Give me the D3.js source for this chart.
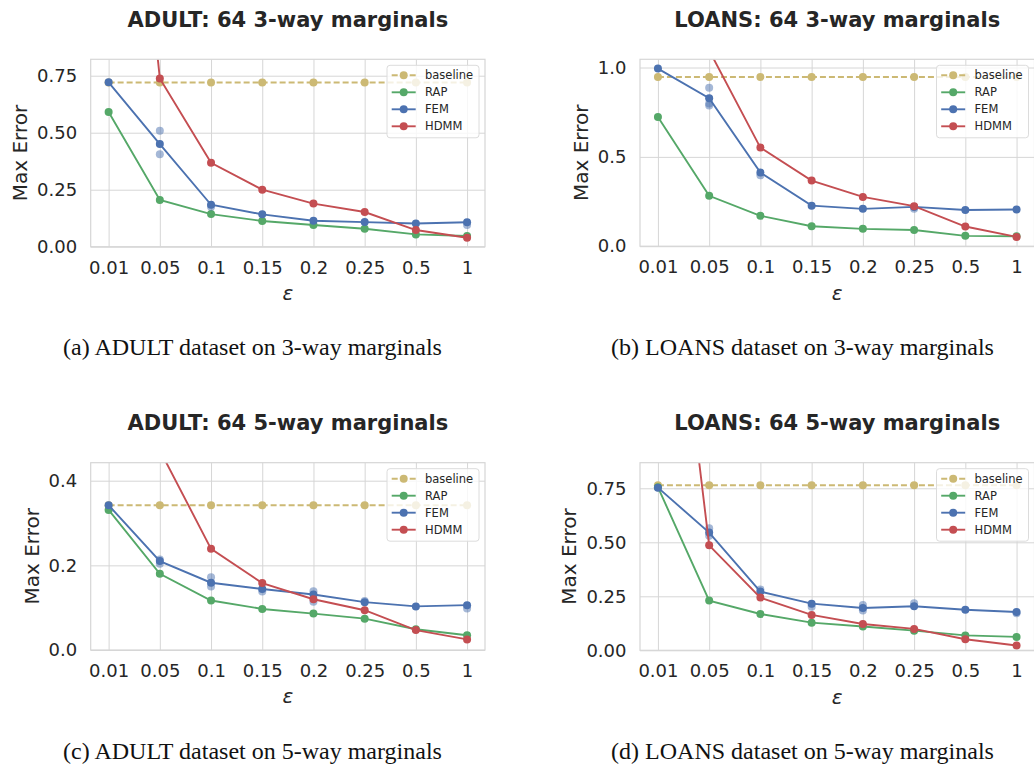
<!DOCTYPE html>
<html>
<head>
<meta charset="utf-8">
<script src="https://cdn.jsdelivr.net/npm/d3@7"></script>
<style>
  body { margin: 0; background: #fff; }
  svg text { font-family: "DejaVu Sans", sans-serif; fill: #262626; }
  svg text.caption { font-family: "Liberation Serif", "Times New Roman", serif; fill: #111; }
</style>
</head>
<body>
<div id="chart"></div>
<script>
// x axis categories (epsilon)
var epsLabels = ['0.01', '0.05', '0.1', '0.15', '0.2', '0.25', '0.5', '1'];
var methods = ['baseline', 'RAP', 'FEM', 'HDMM'];
var methodColors = ['#ccb974', '#55a868', '#4c72b0', '#c44e52'];

// (a) ADULT, 3-way marginals
var adult3Baseline = [0.72, 0.72, 0.72, 0.72, 0.72, 0.72, 0.72, 0.72];
var adult3RAP = [0.591, 0.205, 0.143, 0.113, 0.095, 0.079, 0.054, 0.047];
var adult3FEM = [0.721, 0.450, 0.184, 0.142, 0.114, 0.108, 0.102, 0.107];
var adult3HDMM = [2.9, 0.738, 0.368, 0.250, 0.189, 0.152, 0.073, 0.039];
var adult3FEMRuns = [[], [0.509, 0.405], [0.175], [], [], [], [], [0.095]];

// (b) LOANS, 3-way marginals
var loans3Baseline = [0.947, 0.947, 0.947, 0.947, 0.947, 0.947, 0.947, 0.947];
var loans3RAP = [0.723, 0.282, 0.170, 0.112, 0.097, 0.091, 0.058, 0.056];
var loans3FEM = [0.994, 0.828, 0.412, 0.227, 0.209, 0.220, 0.203, 0.205];
var loans3HDMM = [3.0, 1.096, 0.552, 0.367, 0.276, 0.224, 0.110, 0.052];
var loans3FEMRuns = [[], [0.887, 0.798, 0.787], [0.397], [], [], [0.209], [], []];

// (c) ADULT, 5-way marginals
var adult5Baseline = [0.342, 0.342, 0.342, 0.342, 0.342, 0.342, 0.342, 0.342];
var adult5RAP = [0.331, 0.180, 0.117, 0.097, 0.086, 0.074, 0.049, 0.035];
var adult5FEM = [0.342, 0.210, 0.159, 0.144, 0.131, 0.113, 0.103, 0.106];
var adult5HDMM = [1.2, 0.472, 0.239, 0.158, 0.120, 0.094, 0.047, 0.025];
var adult5FEMRuns = [[], [0.214, 0.204], [0.172, 0.150], [0.138], [0.139, 0.114], [0.116], [], [0.098]];

// (d) LOANS, 5-way marginals
var loans5Baseline = [0.764, 0.764, 0.764, 0.764, 0.764, 0.764, 0.764, 0.764];
var loans5RAP = [0.755, 0.230, 0.168, 0.128, 0.110, 0.091, 0.069, 0.062];
var loans5FEM = [0.753, 0.545, 0.272, 0.216, 0.196, 0.204, 0.188, 0.177];
var loans5HDMM = [2.46, 0.486, 0.244, 0.164, 0.122, 0.099, 0.051, 0.022];
var loans5FEMRuns = [[], [0.565, 0.530], [0.282], [0.202], [0.210, 0.184], [0.218], [], [0.171]];

// panel setup
var panels = [
  { title: 'ADULT: 64 3-way marginals', caption: '(a) ADULT dataset on 3-way marginals',
    series: [adult3Baseline, adult3RAP, adult3FEM, adult3HDMM], runs: adult3FEMRuns,
    yMax: 0.822, yTicks: [0, 0.25, 0.5, 0.75], fmt: '.2f',
    left: 90.7, right: 485, top: 59.3, bottom: 246.7, capX: 252.5, capY: 355 },
  { title: 'LOANS: 64 3-way marginals', caption: '(b) LOANS dataset on 3-way marginals',
    series: [loans3Baseline, loans3RAP, loans3FEM, loans3HDMM], runs: loans3FEMRuns,
    yMax: 1.046, yTicks: [0, 0.5, 1.0], fmt: '.1f',
    left: 640, right: 1034.5, top: 59.3, bottom: 246.2, capX: 802.5, capY: 355 },
  { title: 'ADULT: 64 5-way marginals', caption: '(c) ADULT dataset on 5-way marginals',
    series: [adult5Baseline, adult5RAP, adult5FEM, adult5HDMM], runs: adult5FEMRuns,
    yMax: 0.4425, yTicks: [0, 0.2, 0.4], fmt: '.1f',
    left: 90.7, right: 485, top: 462.7, bottom: 650, capX: 252.5, capY: 759 },
  { title: 'LOANS: 64 5-way marginals', caption: '(d) LOANS dataset on 5-way marginals',
    series: [loans5Baseline, loans5RAP, loans5FEM, loans5HDMM], runs: loans5FEMRuns,
    yMax: 0.8685, yTicks: [0, 0.25, 0.5, 0.75], fmt: '.2f',
    left: 640, right: 1034.5, top: 462.7, bottom: 650.3, capX: 802.5, capY: 759 }
];

var svg = d3.select('#chart')
  .append('svg')
  .attr('width', 1034)
  .attr('height', 770);

svg.append('rect')
  .attr('width', 1034)
  .attr('height', 770)
  .attr('fill', '#fff');

var gridColor = '#d6d6d6';
var lineW = 1.9;
var markR = 4;

panels.forEach(function(p, pi) {
  var width = p.right - p.left;
  var height = p.bottom - p.top;

  var xScale = d3.scalePoint()
    .domain(epsLabels)
    .range([0, width])
    .padding(0.35);

  var yScale = d3.scaleLinear()
    .domain([0, p.yMax])
    .range([height, 0]);

  var g = svg.append('g')
    .attr('transform', `translate(${p.left}, ${p.top})`);

  // clip to plot area
  var clipId = 'clip' + pi;
  g.append('clipPath')
    .attr('id', clipId)
    .append('rect')
    .attr('width', width)
    .attr('height', height);

  // gridlines
  g.append('g')
    .call(d3.axisBottom(xScale).tickSize(height).tickFormat(''))
    .call(s => s.select('.domain').remove())
    .selectAll('line').attr('stroke', gridColor).attr('stroke-width', 1);

  g.append('g')
    .call(d3.axisLeft(yScale).tickValues(p.yTicks).tickSize(-width).tickFormat(''))
    .call(s => s.select('.domain').remove())
    .selectAll('line').attr('stroke', gridColor).attr('stroke-width', 1);

  // tick labels
  var xAxis = g.append('g')
    .attr('transform', `translate(0, ${height})`)
    .call(d3.axisBottom(xScale).tickSize(0).tickPadding(14.2));
  xAxis.select('.domain').remove();
  xAxis.selectAll('text')
    .style('font-size', '18px')
    .style('font-family', '"DejaVu Sans", sans-serif')
    .attr('fill', '#262626');

  var yAxis = g.append('g')
    .call(d3.axisLeft(yScale).tickValues(p.yTicks).tickSize(0).tickPadding(13.5).tickFormat(d3.format(p.fmt)));
  yAxis.select('.domain').remove();
  yAxis.selectAll('text')
    .style('font-size', '18px')
    .style('font-family', '"DejaVu Sans", sans-serif')
    .attr('fill', '#262626');

  var yb = yAxis.node().getBBox();

  g.append('text')
    .attr('transform', 'rotate(-90)')
    .attr('x', -height / 2)
    .attr('y', yb.x - 10)
    .attr('text-anchor', 'middle')
    .style('font-size', '20px')
    .text('Max Error');

  g.append('text')
    .attr('x', width / 2)
    .attr('y', height + 53.5)
    .attr('text-anchor', 'middle')
    .style('font-size', '20px')
    .style('font-style', 'italic')
    .text('ε');

  // title
  g.append('text')
    .attr('x', width / 2)
    .attr('y', -32.5)
    .attr('text-anchor', 'middle')
    .style('font-size', '21px')
    .style('font-weight', 'bold')
    .text(p.title);

  // data
  var plot = g.append('g').attr('clip-path', `url(#${clipId})`);

  var line = d3.line()
    .x((d, i) => xScale(epsLabels[i]))
    .y(d => yScale(d));

  p.series.forEach(function(vals, si) {
    var color = methodColors[si];
    plot.append('path')
      .datum(vals)
      .attr('d', line)
      .attr('fill', 'none')
      .attr('stroke', color)
      .attr('stroke-width', lineW)
      .attr('stroke-dasharray', si === 0 ? '6,3' : null);

    // individual FEM runs, faint
    if (si === 2) {
      var runPts = [];
      p.runs.forEach(function(r, i) {
        r.forEach(v => runPts.push({ x: epsLabels[i], v: v }));
      });
      plot.selectAll(null)
        .data(runPts)
        .enter()
        .append('circle')
        .attr('cx', d => xScale(d.x))
        .attr('cy', d => yScale(d.v))
        .attr('r', markR)
        .attr('fill', color)
        .attr('opacity', 0.5);
    }

    plot.selectAll(null)
      .data(vals)
      .enter()
      .append('circle')
      .attr('cx', (d, i) => xScale(epsLabels[i]))
      .attr('cy', d => yScale(d))
      .attr('r', markR)
      .attr('fill', color);
  });

  // frame
  g.append('rect')
    .attr('width', width)
    .attr('height', height)
    .attr('fill', 'none')
    .attr('stroke', gridColor)
    .attr('stroke-width', 1.2);

  // legend
  var lgW = 92, lgH = 72.5;
  var legend = g.append('g')
    .attr('transform', `translate(${width - 6 - lgW}, 6)`);

  legend.append('rect')
    .attr('width', lgW)
    .attr('height', lgH)
    .attr('rx', 3)
    .attr('fill', 'rgba(255,255,255,0.8)')
    .attr('stroke', '#dcdcdc')
    .attr('stroke-width', 1);

  var items = legend.selectAll('g.item')
    .data(methods)
    .enter()
    .append('g')
    .attr('class', 'item')
    .attr('transform', (d, i) => `translate(0, ${10 + i * 17})`);

  items.append('line')
    .attr('x1', 4.7)
    .attr('x2', 28.7)
    .attr('stroke', (d, i) => methodColors[i])
    .attr('stroke-width', lineW)
    .attr('stroke-dasharray', (d, i) => i === 0 ? '6,3' : null);

  items.append('circle')
    .attr('cx', 16.7)
    .attr('r', markR)
    .attr('fill', (d, i) => methodColors[i]);

  items.append('text')
    .attr('x', 38)
    .attr('dy', '0.35em')
    .style('font-size', '11.5px')
    .text(d => d);

  // caption
  svg.append('text')
    .attr('class', 'caption')
    .attr('x', p.capX)
    .attr('y', p.capY)
    .attr('text-anchor', 'middle')
    .style('font-size', '24px')
    .text(p.caption);
});
</script>
</body>
</html>
